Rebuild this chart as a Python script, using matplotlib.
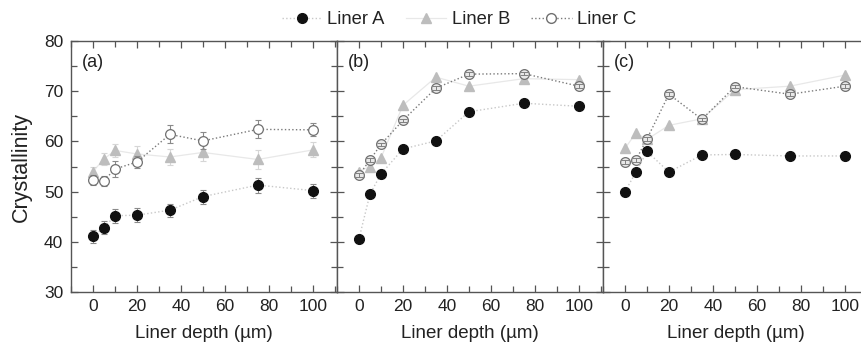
import matplotlib
matplotlib.use("Agg")
import matplotlib.pyplot as plt
from matplotlib.ticker import MultipleLocator
from matplotlib.lines import Line2D

plt.rcParams['font.family'] = ['Liberation Sans', 'DejaVu Sans']

depth = [0, 5, 10, 20, 35, 50, 75, 100]
panel_labels = ['(a)', '(b)', '(c)']

# panel (a)
a_liner_a = [41.1, 42.8, 45.2, 45.3, 46.3, 49.0, 51.3, 50.2]
a_liner_b = [54.0, 56.5, 58.2, 57.5, 56.9, 57.8, 56.4, 58.3]
a_liner_c = [52.3, 52.2, 54.5, 55.9, 61.4, 60.1, 62.4, 62.3]
a_err_a = [1.3, 1.3, 1.4, 1.4, 1.3, 1.4, 1.5, 1.4]
a_err_b = [1.0, 1.2, 1.3, 1.5, 1.6, 1.7, 1.8, 1.5]
a_err_c = [1.0, 1.0, 1.5, 1.2, 1.8, 1.7, 1.8, 1.3]

# panel (b)
b_liner_a = [40.6, 49.5, 53.5, 58.5, 60.1, 65.9, 67.6, 67.0]
b_liner_b = [54.0, 55.0, 56.7, 67.2, 72.8, 71.0, 72.5, 72.3]
b_liner_c = [53.3, 56.3, 59.4, 64.2, 70.6, 73.4, 73.5, 71.0]

# panel (c)
c_liner_a = [50.0, 53.9, 58.0, 53.9, 57.3, 57.4, 57.1, 57.1]
c_liner_b = [58.6, 61.7, 60.4, 63.2, 64.5, 70.3, 71.0, 73.2]
c_liner_c = [55.9, 56.3, 60.5, 69.4, 64.4, 70.9, 69.4, 71.0]
small_err = [0.35] * 8

spine_col = '#555555'
col_a_line = '#c8c8c8'
col_b = '#bdbdbd'
col_b_line = '#e8e8e8'
col_c = '#7a7a7a'

fig = plt.figure(figsize=(8.62, 3.48), dpi=100)
lefts = [71 / 862, 337 / 862, 603 / 862]
w = 266 / 862
bottom = 1 - 292 / 348
h = (292 - 41) / 348

panels = [
    (a_liner_a, a_liner_b, a_liner_c, a_err_a, a_err_b, a_err_c),
    (b_liner_a, b_liner_b, b_liner_c, None, None, small_err),
    (c_liner_a, c_liner_b, c_liner_c, None, None, small_err),
]

for i, (ya, yb, yc, ea, eb, ec) in enumerate(panels):
    ax = fig.add_axes([lefts[i], bottom, w, h])

    # Liner B (light triangles)
    ax.plot(depth, yb, '-', color=col_b_line, lw=0.9, zorder=1)
    if eb is not None:
        ax.errorbar(depth, yb, yerr=eb, fmt='none', ecolor='#d6d6d6',
                    elinewidth=0.8, capsize=2.5, capthick=0.8, zorder=2)
    ax.plot(depth, yb, '^', color=col_b, ms=7, mec=col_b, zorder=3)

    # Liner C (open circles)
    ax.plot(depth, yc, ':', color=col_c, lw=1.0, zorder=4)
    if i == 0:
        ax.errorbar(depth, yc, yerr=ec, fmt='none', ecolor='#8a8a8a',
                    elinewidth=0.8, capsize=2.5, capthick=0.8, zorder=5)
        ax.plot(depth, yc, 'o', mfc='white', mec='#707070', mew=0.9,
                ms=7, zorder=6)
    else:
        ax.plot(depth, yc, 'o', mfc='#e8e8e8', mec='#707070', mew=0.9,
                ms=7, zorder=6)
        ax.errorbar(depth, yc, yerr=ec, fmt='none', ecolor='#808080',
                    elinewidth=0.7, capsize=2.6, capthick=0.7, zorder=7)

    # Liner A (black dots)
    ax.plot(depth, ya, ':', color=col_a_line, lw=1.0, zorder=8)
    if ea is not None:
        ax.errorbar(depth, ya, yerr=ea, fmt='none', ecolor='#8a8a8a',
                    elinewidth=0.8, capsize=2.5, capthick=0.8, zorder=9)
    ax.plot(depth, ya, 'o', color='#111111', ms=7, zorder=10)

    ax.set_xlim(-10, 111)
    ax.set_ylim(30, 80)
    ax.xaxis.set_major_locator(MultipleLocator(20))
    ax.xaxis.set_minor_locator(MultipleLocator(10))
    ax.yaxis.set_major_locator(MultipleLocator(10))
    ax.yaxis.set_minor_locator(MultipleLocator(5))
    ax.tick_params(which='both', direction='in', top=True, right=True,
                   colors=spine_col, labelcolor='#222222', labelsize=12.5)
    ax.tick_params(which='major', length=5, width=0.9)
    ax.tick_params(which='minor', length=4, width=0.9)
    ax.tick_params(axis='x', pad=5)
    ax.tick_params(axis='y', pad=5.5)
    for s in ax.spines.values():
        s.set_color(spine_col)
        s.set_linewidth(1.0)
    if i > 0:
        ax.tick_params(labelleft=False)
    else:
        ax.set_ylabel('Crystallinity', fontsize=15.5, color='#222222', labelpad=9)
    ax.set_xlabel('Liner depth (\u00b5m)', fontsize=13.5, color='#222222',
                  labelpad=8)
    ax.text(0.04, 0.915, panel_labels[i], transform=ax.transAxes,
            fontsize=13, color='#222222', va='center', ha='left')

handles = [
    Line2D([], [], ls=':', color=col_a_line, lw=1.0, marker='o',
           mfc='#111111', mec='#111111', ms=7),
    Line2D([], [], ls='-', color=col_b_line, lw=0.9, marker='^',
           mfc=col_b, mec=col_b, ms=7),
    Line2D([], [], ls=':', color=col_c, lw=1.0, marker='o',
           mfc='white', mec='#707070', ms=7),
]
fig.legend(handles, ['Liner A', 'Liner B', 'Liner C'], loc='center',
           bbox_to_anchor=(459 / 862, 1 - 20 / 348), ncol=3, frameon=False,
           fontsize=13.2, handlelength=2.2, handletextpad=0.3,
           columnspacing=1.15, labelcolor='#222222')

fig.savefig('out.png', dpi=100)
